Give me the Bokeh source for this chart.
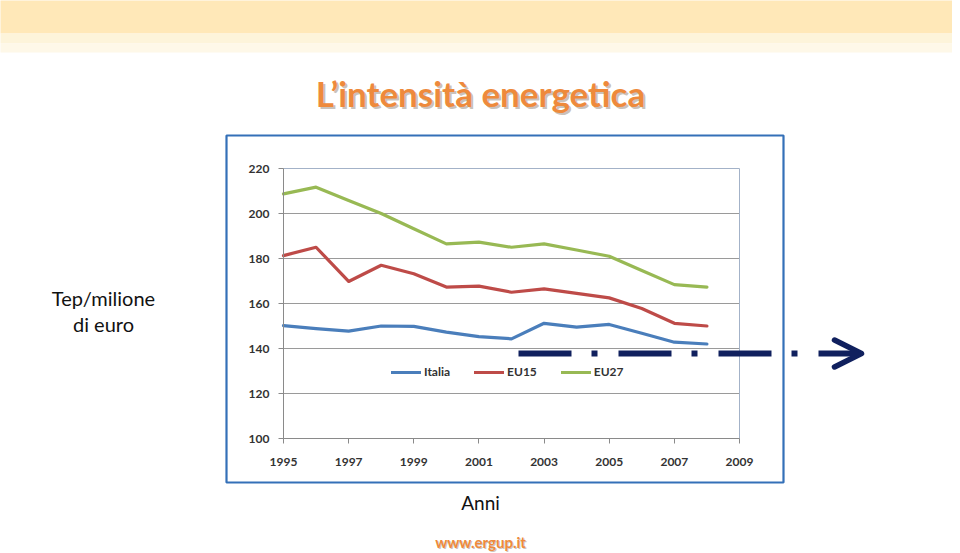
from bokeh.plotting import figure
from bokeh.models import (Range1d, FixedTicker, Label, BoxAnnotation, Arrow,
                          OpenHead, Legend, LegendItem, LinearAxis)
from bokeh.embed import file_html
from bokeh.resources import INLINE

# ---- data ----
years = [1995, 1996, 1997, 1998, 1999, 2000, 2001, 2002, 2003, 2004, 2005, 2006, 2007, 2008]
italia = [150.2, 148.8, 147.7, 150.0, 149.8, 147.3, 145.3, 144.3, 151.2, 149.5, 150.7, 146.8, 142.8, 142.0]
eu15 = [181.3, 185.0, 169.8, 177.0, 173.2, 167.3, 167.7, 165.0, 166.5, 164.5, 162.5, 157.8, 151.2, 150.0]
eu27 = [208.7, 211.7, 205.8, 200.0, 193.2, 186.5, 187.3, 185.0, 186.5, 183.8, 181.0, 174.7, 168.4, 167.3]
series_names = ["Italia", "EU15", "EU27"]
x_ticks = [1995, 1997, 1999, 2001, 2003, 2005, 2007, 2009]
y_ticks = [100, 120, 140, 160, 180, 200, 220]
x_min, x_max = 1995, 2009
y_min, y_max = 100, 220

title_text = "L\u2019intensit\u00e0 energetica"
ylabel_lines = ["Tep/milione", "di euro"]
xlabel_text = "Anni"
footer_text = "www.ergup.it"

colors = ["#4A7EBB", "#BE4B48", "#98B954"]

# ---- layout: the frame covers the whole canvas; the chart's plot area sits at
#      page x 283..739, y 168..438, obtained by choosing the ranges ----
W, H = 952, 553
PL, PR, PT, PB = 283, 739, 168, 438
kx = (PR - PL) / (x_max - x_min)
ky = (PB - PT) / (y_max - y_min)
xr = Range1d(x_min - PL / kx, x_max + (W - PR) / kx)
yr = Range1d(y_min - (H - PB) / ky, y_max + PT / ky)

p = figure(width=W, height=H, output_backend="svg", toolbar_location=None,
           x_range=xr, y_range=yr, min_border=0,
           x_axis_location=None, y_axis_location=None,
           background_fill_color="white", border_fill_color="white")
p.outline_line_color = None
p.grid.visible = False

def sy(py):
    return H - py

def sbox(l, r, t, b, **kw):
    return BoxAnnotation(left=l, right=r, top=sy(t), bottom=sy(b),
                         left_units="screen", right_units="screen",
                         top_units="screen", bottom_units="screen", **kw)

# ---- decorations ----
p.add_layout(sbox(-20, W + 20, -20, 33, fill_color="#FFE8B8", fill_alpha=1, line_alpha=0))
p.add_layout(sbox(-20, W + 20, 33, 43, fill_color="#FDF4DA", fill_alpha=1, line_alpha=0))
p.add_layout(sbox(-20, W + 20, 43, 52, fill_color="#FEF8E8", fill_alpha=1, line_alpha=0))
p.add_layout(sbox(226, 783, 135, 482, fill_alpha=0, line_color="#3470B8",
                  line_alpha=1, line_width=2.2))

# ---- plot area: grid + outline ----
grid_vals = [v for v in y_ticks if y_min < v < y_max]
p.segment(x0=x_min, x1=x_max, y0=grid_vals, y1=grid_vals, line_color="#9A9A9A", line_width=1)
p.quad(left=[x_min], right=[x_max], bottom=[y_min], top=[y_max],
       fill_alpha=0, line_color="#A3B2C8", line_width=1)

# ---- axes at fixed locations ----
xaxis = LinearAxis(fixed_location=y_min, bounds=(x_min, x_max), ticker=FixedTicker(ticks=x_ticks))
yaxis = LinearAxis(fixed_location=x_min, bounds=(y_min, y_max), ticker=FixedTicker(ticks=y_ticks))
p.add_layout(xaxis, "below")
p.add_layout(yaxis, "left")
for ax in (xaxis, yaxis):
    ax.axis_line_color = "#8A8A8A"
    ax.major_tick_line_color = "#8A8A8A"
    ax.major_tick_out = 5
    ax.major_tick_in = 0
    ax.minor_tick_line_color = None
    ax.major_label_text_font = "Lato"
    ax.major_label_text_font_style = "bold"
    ax.major_label_text_font_size = "12px"
    ax.major_label_text_color = "#333333"
xaxis.major_label_standoff = 14
yaxis.major_label_standoff = 9

# ---- series ----
renderers = []
for vals, c in zip([italia, eu15, eu27], colors):
    r = p.line(years, vals, line_color=c, line_width=3.2, line_join="round", line_cap="round")
    renderers.append(r)

legend = Legend(items=[LegendItem(label=n, renderers=[r]) for n, r in zip(series_names, renderers)],
                orientation="horizontal", location=(391, sy(373) - 6),
                glyph_width=30, glyph_height=12, label_height=12, label_standoff=3,
                spacing=24, padding=0, margin=0,
                background_fill_alpha=0, border_line_alpha=0,
                label_text_font="Lato", label_text_font_style="bold",
                label_text_font_size="12px", label_text_color="#333333")
p.add_layout(legend, "center")

# ---- arrow ----
p.add_layout(Arrow(x_start=518, y_start=sy(353), x_end=861, y_end=sy(353),
                   start_units="screen", end_units="screen",
                   line_color="#10205E", line_width=6, line_dash="53 20 6 21",
                   end=OpenHead(size=27, line_color="#10205E", line_width=5.5,
                                line_cap="round", line_join="round")))

# ---- texts ----
def lab(x, y, text, size, color, bold=False, alpha=1.0):
    p.add_layout(Label(x=x, y=sy(y), x_units="screen", y_units="screen", text=text,
                       text_align="center", text_baseline="middle", text_font="Lato",
                       text_font_style="bold" if bold else "normal",
                       text_font_size=size, text_color=color, text_alpha=alpha))

lab(482, 94, title_text, "35px", "#9C8E80", bold=True, alpha=0.55)
lab(480, 92, title_text, "35px", "#EE8A3C", bold=True)
for txt, yy in zip(ylabel_lines, [297, 323]):
    lab(103, yy, txt, "20px", "#111111")
lab(480, 502, xlabel_text, "19px", "#111111")
lab(481, 542, footer_text, "15px", "#9C8E80", bold=True, alpha=0.5)
lab(480, 541, footer_text, "15px", "#EE8A3C", bold=True)

open("out.html", "w").write(file_html(p, INLINE))
